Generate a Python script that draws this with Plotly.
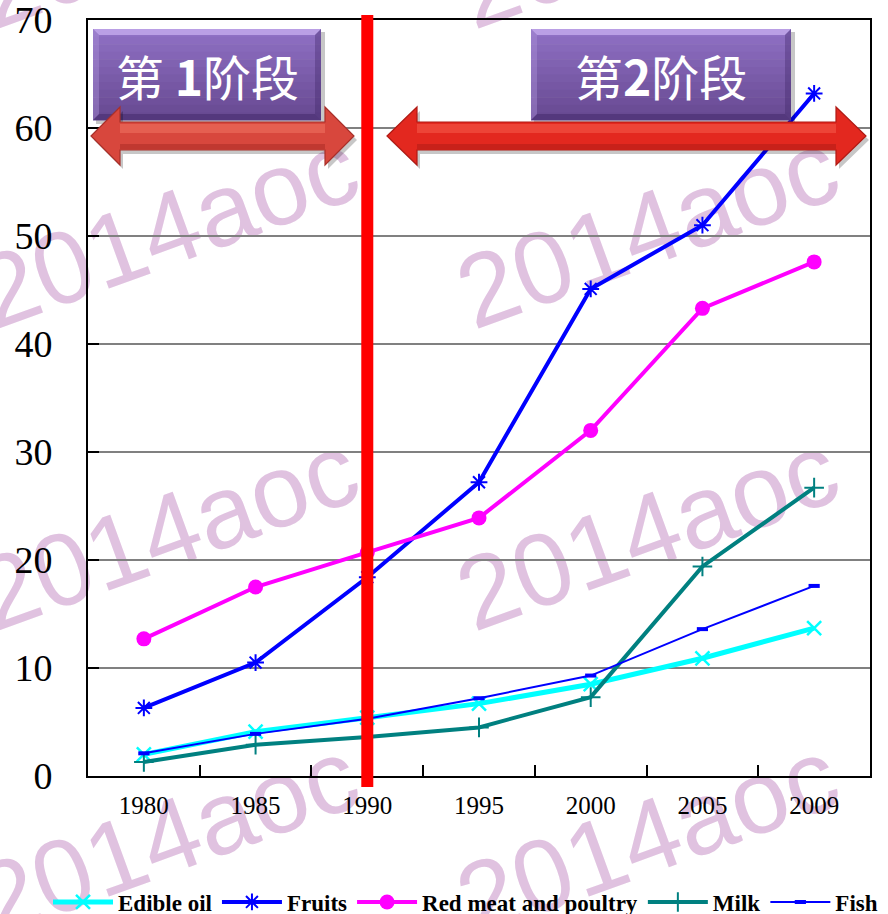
import plotly.graph_objects as go

years = ["1980", "1985", "1990", "1995", "2000", "2005", "2009"]
edible_oil = [2.0, 4.1, 5.4, 6.7, 8.5, 10.9, 13.7]
fruits = [6.3, 10.5, 18.4, 27.2, 45.1, 51.0, 63.2]
red_meat = [12.7, 17.5, 20.7, 23.9, 32.0, 43.3, 47.6]
milk = [1.3, 2.9, 3.6, 4.5, 7.3, 19.4, 26.7]
fish = [2.1, 3.9, 5.3, 7.2, 9.3, 13.6, 17.6]
y_ticks = [0, 10, 20, 30, 40, 50, 60, 70]
stage_labels = ["第 <b>1</b>阶段", "第<b>2</b>阶段"]
watermark = "2014aoc"

W, H = 888, 914
ML, MR, MT, MB = 88, 18, 20, 138
PW, PH = W - ML - MR, H - MT - MB

def X(px):
    return (px - ML) / PW

def Y(py):
    return (H - MB - py) / PH

fig = go.Figure()
series = [
    ("Edible oil", edible_oil, "#00FFFF", 5, dict(symbol="x-thin-open", size=14, line=dict(width=2.5, color="#00FFFF"))),
    ("Fruits", fruits, "#0000FF", 4, dict(symbol="asterisk-open", size=14, line=dict(width=2, color="#0000FF"))),
    ("Red meat and poultry", red_meat, "#FF00FF", 4, dict(symbol="circle", size=15, color="#FF00FF")),
    ("Milk", milk, "#008080", 4, dict(symbol="cross-thin-open", size=14, line=dict(width=2, color="#008080"))),
    ("Fish", fish, "#0000FF", 2, dict(symbol="line-ew-open", size=8, line=dict(width=4, color="#0000FF"))),
]
for name, vals, col, lw, mk in series:
    fig.add_trace(go.Scatter(x=years, y=vals, name=name, mode="lines+markers",
                             line=dict(color=col, width=lw), marker=mk))

shapes = []
annotations = []

# watermark (below traces)
for cx in (164, 644):
    for cy in (-80, 220, 522, 828):
        shapes.append(dict(type="rect", xref="paper", yref="paper",
                           x0=X(cx - 1), x1=X(cx + 1), y0=Y(cy + 1), y1=Y(cy - 1),
                           line=dict(width=0), fillcolor="rgba(0,0,0,0)", layer="below",
                           label=dict(text=watermark, textangle=-20, textposition="middle center",
                                      font=dict(family="Liberation Sans, Arial", size=103, color="#E0C2E0"))))

# red divider at 1990
xi = years.index("1990")
xr = (xi + 0.5) / len(years)
shapes.append(dict(type="line", xref="paper", yref="paper", x0=xr, x1=xr, y0=Y(787), y1=Y(15),
                   line=dict(color="#FF0000", width=12), layer="above"))

# purple stage boxes
def bevel_box(x0, x1, y0, y1, text):
    shapes.append(dict(type="rect", xref="paper", yref="paper", x0=X(x0 + 3), x1=X(x1 + 4), y0=Y(y1 + 4), y1=Y(y0 + 3),
                       line=dict(width=0), fillcolor="rgba(0,0,0,0.22)", layer="above"))
    n = 12
    top = (143, 112, 196)
    bot = (104, 74, 146)
    for i in range(n):
        t = i / (n - 1)
        c = tuple(int(top[k] + (bot[k] - top[k]) * t) for k in range(3))
        ya = y0 + (y1 - y0) * i / n
        yb = y0 + (y1 - y0) * (i + 1) / n
        shapes.append(dict(type="rect", xref="paper", yref="paper", x0=X(x0), x1=X(x1), y0=Y(yb + 0.5), y1=Y(ya),
                           line=dict(width=0), fillcolor="rgb(%d,%d,%d)" % c, layer="above"))
    b = 6
    shapes.append(dict(type="path", xref="paper", yref="paper", layer="above", line=dict(width=0),
                       fillcolor="rgba(200,175,240,0.75)",
                       path="M%f,%f L%f,%f L%f,%f L%f,%f Z" % (X(x0), Y(y0), X(x1), Y(y0), X(x1 - b), Y(y0 + b), X(x0 + b), Y(y0 + b))))
    shapes.append(dict(type="path", xref="paper", yref="paper", layer="above", line=dict(width=0),
                       fillcolor="rgba(60,35,100,0.45)",
                       path="M%f,%f L%f,%f L%f,%f L%f,%f Z" % (X(x0), Y(y1), X(x1), Y(y1), X(x1 - b), Y(y1 - b), X(x0 + b), Y(y1 - b))))
    shapes.append(dict(type="path", xref="paper", yref="paper", layer="above", line=dict(width=0),
                       fillcolor="rgba(170,145,215,0.45)",
                       path="M%f,%f L%f,%f L%f,%f L%f,%f Z" % (X(x0), Y(y0), X(x0 + b), Y(y0 + b), X(x0 + b), Y(y1 - b), X(x0), Y(y1))))
    shapes.append(dict(type="path", xref="paper", yref="paper", layer="above", line=dict(width=0),
                       fillcolor="rgba(60,35,100,0.35)",
                       path="M%f,%f L%f,%f L%f,%f L%f,%f Z" % (X(x1), Y(y0), X(x1 - b), Y(y0 + b), X(x1 - b), Y(y1 - b), X(x1), Y(y1))))
    annotations.append(dict(xref="paper", yref="paper", x=X((x0 + x1) / 2), y=Y((y0 + y1) / 2 + 1),
                            text=text, showarrow=False, xanchor="center", yanchor="middle",
                            font=dict(family="Noto Sans CJK SC", size=48, color="white")))

bevel_box(93, 321, 29, 120, stage_labels[0])
bevel_box(531, 791, 29, 120, stage_labels[1])

# red double arrows
def dbl_arrow(xl, xr_, yc, hl, hh, sh, fill, dark, light):
    def path(dx, dy):
        pts = [(xl, yc), (xl + hl, yc - hh), (xl + hl, yc - sh), (xr_ - hl, yc - sh), (xr_ - hl, yc - hh),
               (xr_, yc), (xr_ - hl, yc + hh), (xr_ - hl, yc + sh), (xl + hl, yc + sh), (xl + hl, yc + hh)]
        return "M" + " L".join("%f,%f" % (X(px + dx), Y(py + dy)) for px, py in pts) + " Z"
    shapes.append(dict(type="path", xref="paper", yref="paper", layer="above", line=dict(width=0),
                       fillcolor="rgba(0,0,0,0.22)", path=path(3, 4)))
    shapes.append(dict(type="path", xref="paper", yref="paper", layer="above", line=dict(color=dark, width=1.2),
                       fillcolor=fill, path=path(0, 0)))
    shapes.append(dict(type="rect", xref="paper", yref="paper", layer="above", line=dict(width=0),
                       fillcolor=light, x0=X(xl + hl), x1=X(xr_ - hl), y0=Y(yc - 3), y1=Y(yc - sh + 2)))
    shapes.append(dict(type="rect", xref="paper", yref="paper", layer="above", line=dict(width=0),
                       fillcolor="rgba(120,10,10,0.25)", x0=X(xl + hl), x1=X(xr_ - hl), y0=Y(yc + sh - 1), y1=Y(yc + sh - 6)))

dbl_arrow(91, 354, 136, 29, 29, 14, "#D8473D", "#A8302A", "rgba(255,140,120,0.35)")
dbl_arrow(387, 866, 136, 30, 29, 14, "#E3281F", "#B01A14", "rgba(255,120,100,0.35)")

fig.update_layout(
    width=W, height=H,
    margin=dict(l=ML, r=MR, t=MT, b=MB, autoexpand=False),
    paper_bgcolor="white", plot_bgcolor="white",
    shapes=shapes, annotations=annotations,
    showlegend=True,
    legend=dict(orientation="h", x=X(48), xanchor="left", y=Y(902), yanchor="middle",
                bgcolor="rgba(0,0,0,0)", itemwidth=60,
                font=dict(family="Times New Roman, Liberation Serif, serif", size=23, color="black", weight="bold")),
    font=dict(family="Times New Roman, Liberation Serif, serif", color="black"),
)
fig.update_xaxes(type="category", range=[-0.5, 6.5], showline=True, linecolor="black", linewidth=2, mirror=True,
                 ticks="inside", ticklen=11, tickcolor="black", tickwidth=1.5, tickson="boundaries",
                 showgrid=False, tickfont=dict(size=25), ticklabelstandoff=6, automargin=False,
                 ticklabeloverflow="allow")
fig.update_yaxes(range=[0, 70], tickvals=y_ticks, showline=True, linecolor="black", linewidth=2, mirror=True,
                 ticks="inside", ticklen=11, tickcolor="black", tickwidth=1.5,
                 showgrid=True, gridcolor="#808080", gridwidth=1.5, zeroline=False,
                 tickfont=dict(size=38), ticklabelstandoff=26, automargin=False, ticklabeloverflow="allow")

fig.write_html("out.html", config={"displayModeBar": False},
               post_script="document.body.style.margin='0';document.body.style.overflow='hidden';")
